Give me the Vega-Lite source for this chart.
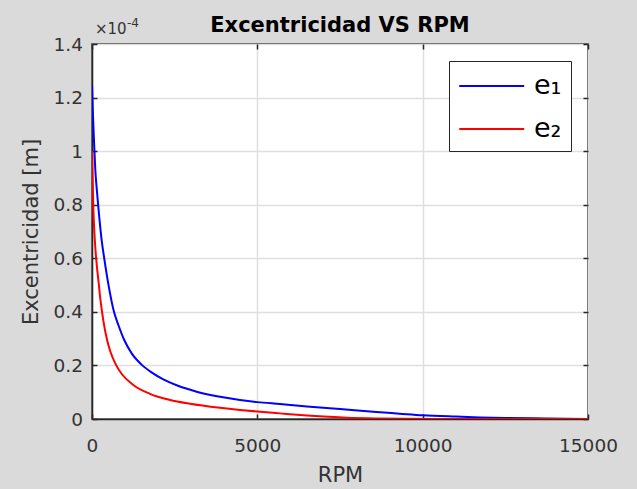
{
  "$schema": "https://vega.github.io/schema/vega-lite/v6.json",
  "width": 496,
  "height": 375,
  "autosize": {"type": "none"},
  "padding": {"left": 92, "top": 44, "right": 49, "bottom": 70},
  "background": "#DADADA",
  "title": {"text": "Excentricidad VS RPM", "font": "DejaVu Sans", "fontSize": 21, "fontWeight": "bold", "color": "#000000", "anchor": "middle", "frame": "group", "baseline": "alphabetic", "offset": -36},
  "config": {
    "view": {"stroke": "#262626", "strokeWidth": 1.5, "fill": "white"},
    "axis": {"labelFont": "DejaVu Sans", "labelFontSize": 18.5, "labelColor": "#333333", "titleFont": "DejaVu Sans", "titleFontSize": 21, "titleFontWeight": "normal", "titleColor": "#333333", "domainColor": "#262626", "domainWidth": 1.5, "tickColor": "#262626", "tickWidth": 1.5, "gridColor": "#DFDFDF", "gridWidth": 1.5, "labelFlush": false}
  },
  "datasets": {
    "curves": [
      {"rpm": 0, "e": 1.25, "serie": "e₁"},
      {"rpm": 30, "e": 1.13, "serie": "e₁"},
      {"rpm": 60, "e": 1.04, "serie": "e₁"},
      {"rpm": 100, "e": 0.93, "serie": "e₁"},
      {"rpm": 150, "e": 0.85, "serie": "e₁"},
      {"rpm": 200, "e": 0.78, "serie": "e₁"},
      {"rpm": 290, "e": 0.67, "serie": "e₁"},
      {"rpm": 370, "e": 0.60, "serie": "e₁"},
      {"rpm": 500, "e": 0.50, "serie": "e₁"},
      {"rpm": 665, "e": 0.40, "serie": "e₁"},
      {"rpm": 800, "e": 0.35, "serie": "e₁"},
      {"rpm": 975, "e": 0.295, "serie": "e₁"},
      {"rpm": 1200, "e": 0.245, "serie": "e₁"},
      {"rpm": 1500, "e": 0.203, "serie": "e₁"},
      {"rpm": 1800, "e": 0.174, "serie": "e₁"},
      {"rpm": 2157, "e": 0.148, "serie": "e₁"},
      {"rpm": 2600, "e": 0.124, "serie": "e₁"},
      {"rpm": 3165, "e": 0.102, "serie": "e₁"},
      {"rpm": 3870, "e": 0.083, "serie": "e₁"},
      {"rpm": 4475, "e": 0.071, "serie": "e₁"},
      {"rpm": 5000, "e": 0.063, "serie": "e₁"},
      {"rpm": 5685, "e": 0.056, "serie": "e₁"},
      {"rpm": 6500, "e": 0.047, "serie": "e₁"},
      {"rpm": 7500, "e": 0.037, "serie": "e₁"},
      {"rpm": 8500, "e": 0.027, "serie": "e₁"},
      {"rpm": 9300, "e": 0.020, "serie": "e₁"},
      {"rpm": 10000, "e": 0.014, "serie": "e₁"},
      {"rpm": 11000, "e": 0.009, "serie": "e₁"},
      {"rpm": 11736, "e": 0.006, "serie": "e₁"},
      {"rpm": 12500, "e": 0.004, "serie": "e₁"},
      {"rpm": 13750, "e": 0.002, "serie": "e₁"},
      {"rpm": 15000, "e": 0.0, "serie": "e₁"},
      {"rpm": 0, "e": 1.0, "serie": "e₂"},
      {"rpm": 20, "e": 0.89, "serie": "e₂"},
      {"rpm": 40, "e": 0.79, "serie": "e₂"},
      {"rpm": 70, "e": 0.70, "serie": "e₂"},
      {"rpm": 100, "e": 0.64, "serie": "e₂"},
      {"rpm": 140, "e": 0.58, "serie": "e₂"},
      {"rpm": 200, "e": 0.51, "serie": "e₂"},
      {"rpm": 250, "e": 0.45, "serie": "e₂"},
      {"rpm": 310, "e": 0.395, "serie": "e₂"},
      {"rpm": 345, "e": 0.365, "serie": "e₂"},
      {"rpm": 460, "e": 0.293, "serie": "e₂"},
      {"rpm": 560, "e": 0.25, "serie": "e₂"},
      {"rpm": 726, "e": 0.202, "serie": "e₂"},
      {"rpm": 900, "e": 0.168, "serie": "e₂"},
      {"rpm": 1250, "e": 0.127, "serie": "e₂"},
      {"rpm": 1750, "e": 0.094, "serie": "e₂"},
      {"rpm": 2360, "e": 0.071, "serie": "e₂"},
      {"rpm": 2964, "e": 0.057, "serie": "e₂"},
      {"rpm": 3870, "e": 0.042, "serie": "e₂"},
      {"rpm": 4475, "e": 0.034, "serie": "e₂"},
      {"rpm": 5000, "e": 0.028, "serie": "e₂"},
      {"rpm": 5685, "e": 0.021, "serie": "e₂"},
      {"rpm": 6500, "e": 0.013, "serie": "e₂"},
      {"rpm": 7000, "e": 0.009, "serie": "e₂"},
      {"rpm": 7700, "e": 0.005, "serie": "e₂"},
      {"rpm": 8700, "e": 0.002, "serie": "e₂"},
      {"rpm": 9500, "e": 0.0005, "serie": "e₂"},
      {"rpm": 10500, "e": 0.0, "serie": "e₂"},
      {"rpm": 15000, "e": 0.0, "serie": "e₂"}
    ]
  },
  "layer": [
    {
      "data": {"name": "curves"},
      "mark": {"type": "line", "strokeWidth": 2, "interpolate": "monotone", "clip": true},
      "encoding": {
        "x": {"field": "rpm", "type": "quantitative", "scale": {"domain": [0, 15000], "nice": false}, "axis": {"title": "RPM", "values": [0, 5000, 10000, 15000], "format": "d", "tickSize": -5, "labelPadding": 22, "titlePadding": 10, "grid": true}},
        "y": {"field": "e", "type": "quantitative", "scale": {"domain": [0, 1.4], "nice": false}, "axis": {"title": "Excentricidad [m]", "values": [0, 0.2, 0.4, 0.6, 0.8, 1, 1.2, 1.4], "format": "~g", "tickSize": -5, "labelPadding": 14.5, "titlePadding": 12, "grid": true}},
        "color": {"field": "serie", "type": "nominal", "scale": {"domain": ["e₁", "e₂"], "range": ["#0000FF", "#FF0000"]}, "legend": {"title": null, "orient": "top-right", "offset": 17, "labelFont": "DejaVu Sans", "labelFontSize": 27, "labelColor": "#000000", "symbolType": "M-1,0H3.4", "symbolSize": 872, "symbolStrokeWidth": 2, "labelOffset": 44, "rowPadding": 14, "padding": 9, "strokeColor": "#262626", "fillColor": "#FFFFFF", "cornerRadius": 0}}
      }
    },
    {
      "data": {"name": "curves"},
      "mark": {"type": "point", "opacity": 0},
      "encoding": {
        "x": {"field": "rpm", "type": "quantitative", "axis": {"orient": "top", "title": null, "labels": false, "domain": false, "grid": false, "values": [0, 5000, 10000, 15000], "tickSize": -5}},
        "y": {"field": "e", "type": "quantitative", "axis": {"orient": "right", "title": null, "labels": false, "domain": false, "grid": false, "values": [0, 0.2, 0.4, 0.6, 0.8, 1, 1.2, 1.4], "tickSize": -5}}
      }
    },
    {
      "data": {"values": [{"t": "×10"}]},
      "mark": {"type": "text", "font": "DejaVu Sans", "fontSize": 15, "color": "#333333", "align": "left", "baseline": "alphabetic", "dx": 3, "dy": -10},
      "encoding": {
        "x": {"datum": 0, "type": "quantitative", "axis": null},
        "y": {"datum": 1.4, "type": "quantitative", "axis": null},
        "text": {"field": "t"}
      }
    },
    {
      "data": {"values": [{"t": "-4"}]},
      "mark": {"type": "text", "font": "DejaVu Sans", "fontSize": 12, "color": "#333333", "align": "left", "baseline": "alphabetic", "dx": 35, "dy": -17},
      "encoding": {
        "x": {"datum": 0, "type": "quantitative", "axis": null},
        "y": {"datum": 1.4, "type": "quantitative", "axis": null},
        "text": {"field": "t"}
      }
    }
  ],
  "resolve": {"axis": {"x": "independent", "y": "independent"}}
}
